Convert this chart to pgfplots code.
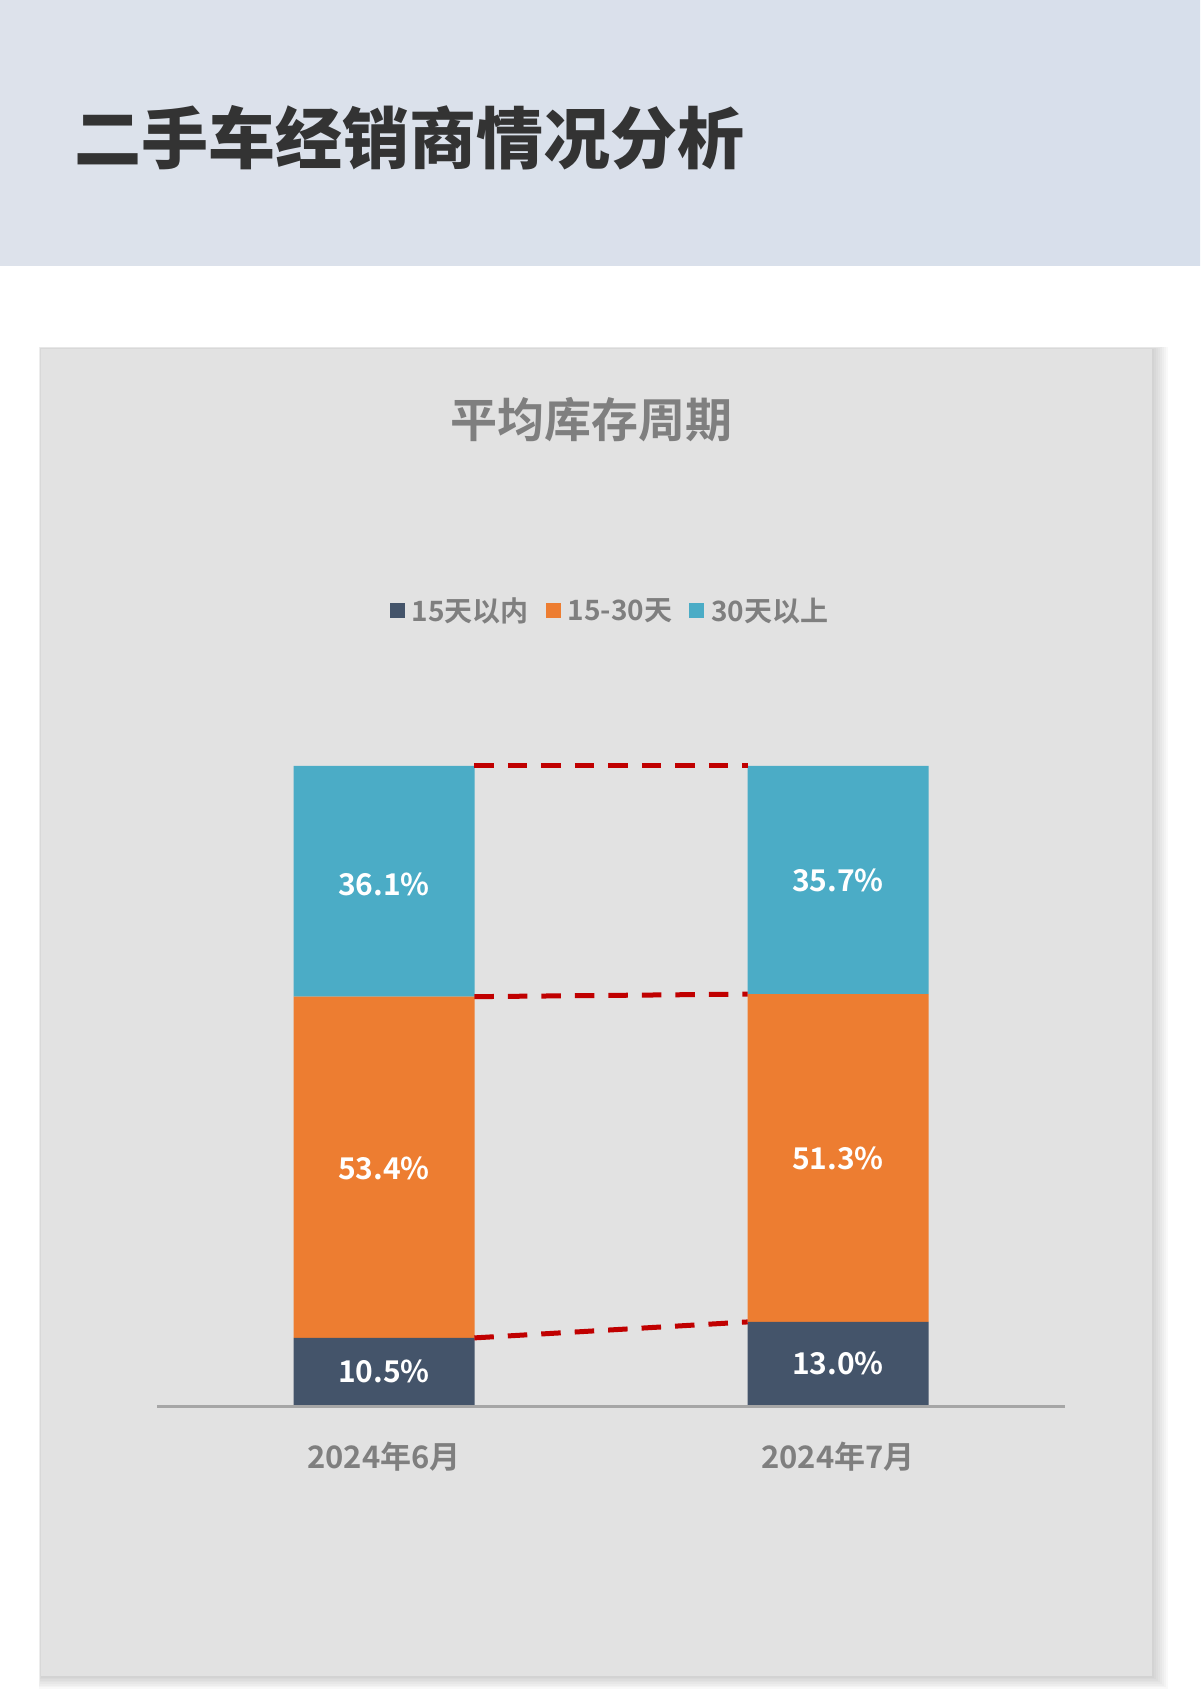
\documentclass[border=0pt]{standalone}
\usepackage{fontspec}
\setmainfont{Noto Sans CJK SC}[BoldFont={Noto Sans CJK SC Bold}]
\IfFontExistsTF{Noto Sans CJK SC Black}
  {\newfontfamily\blackfont{Noto Sans CJK SC Black}}
  {\newfontfamily\blackfont{Noto Sans CJK SC Bold}}
\usepackage{pgfplots}
\pgfplotsset{compat=1.18}

\definecolor{hdrL}{HTML}{DDE2EB}
\definecolor{hdrR}{HTML}{D7DFEB}
\definecolor{panel}{HTML}{E2E2E2}
\definecolor{cdark}{HTML}{44546A}
\definecolor{corange}{HTML}{ED7D31}
\definecolor{cblue}{HTML}{4BACC6}
\definecolor{cred}{HTML}{C00000}
\definecolor{txtgray}{HTML}{7F7F7F}
\definecolor{axgray}{HTML}{A6A6A6}
\definecolor{ttl}{HTML}{333333}

\pgfplotsset{
  base/.style={
    at={(78.5pt,148.5pt)}, anchor=south west,
    scale only axis, width=454pt, height=319.5pt,
    xmin=-0.5, xmax=1.5, ymin=0, ymax=100,
  },
  sq/.style={legend image code/.code={\fill[##1] (0pt,-3.75pt) rectangle (7.5pt,3.75pt);}},
}

\begin{document}
\begin{tikzpicture}
\useasboundingbox (0,0) rectangle (600pt,851pt);
\clip (0,0) rectangle (600pt,851pt);
% header band
\shade[left color=hdrL, right color=hdrR] (0,718pt) rectangle (600pt,851pt);
\node[anchor=west, inner sep=0pt, text=ttl, font=\blackfont\fontsize{33.5}{34}\selectfont]
  at (37pt,782pt) {二手车经销商情况分析};
% panel with soft shadow
\foreach \k in {1,...,8}
  \fill[black, opacity=0.022] (20.5pt-0.15*\k pt,13pt-0.8*\k pt) rectangle (576pt+\k pt,676.5pt+0.15*\k pt);
\fill[panel] (20.5pt,13pt) rectangle (576pt,676.5pt);
\node[text=txtgray, font=\bfseries\fontsize{23.5}{24}\selectfont] at (295.5pt,641pt) {平均库存周期};

% stacked bars
\begin{axis}[base, ybar stacked, bar width=90.5pt,
  axis x line=bottom, axis y line=none, ytick=\empty,
  x axis line style={axgray, line width=1.5pt, -, yshift=-0.75pt},
  xtick={0,1}, xticklabels={2024年6月,2024年7月}, major tick length=0pt,
  xticklabel style={text=txtgray, font=\bfseries\fontsize{15.5}{16}\selectfont, yshift=-15pt},
  legend columns=3,
  legend style={draw=none, fill=none, at={(0.5,1)}, anchor=center, yshift=77.5pt,
    text=txtgray, font=\bfseries\fontsize{14}{14}\selectfont,
    /tikz/every even column/.append style={column sep=6.5pt},
    /tikz/every odd column/.append style={column sep=1.5pt}},
]
\addplot[fill=cdark, draw=none, sq] coordinates {(0,10.5) (1,13.0)};
\addplot[fill=corange, draw=none, sq] coordinates {(0,53.4) (1,51.3)};
\addplot[fill=cblue, draw=none, sq] coordinates {(0,36.1) (1,35.7)};
\legend{15天以内, 15-30天, 30天以上}
\end{axis}

% connector lines and value labels
\begin{axis}[base, hide axis, clip=false]
\addplot[cred, line width=2.5pt, dash pattern=on 9.75pt off 7pt] coordinates {(0.199,10.5) (0.801,13.0)};
\addplot[cred, line width=2.5pt, dash pattern=on 9.75pt off 7pt] coordinates {(0.199,63.9) (0.801,64.3)};
\addplot[cred, line width=2.5pt, dash pattern=on 9.75pt off 7pt] coordinates {(0.199,100) (0.801,100)};
\addplot[draw=none, mark=none, nodes near coords, point meta=explicit symbolic,
  every node near coord/.append style={anchor=center, text=white, font=\bfseries\fontsize{15}{15}\selectfont}]
  coordinates {(0,5.25)[10.5\%] (0,36.95)[53.4\%] (0,81.5)[36.1\%]
               (1,6.5)[13.0\%] (1,38.65)[51.3\%] (1,82.15)[35.7\%]};
\end{axis}
\end{tikzpicture}
\end{document}
